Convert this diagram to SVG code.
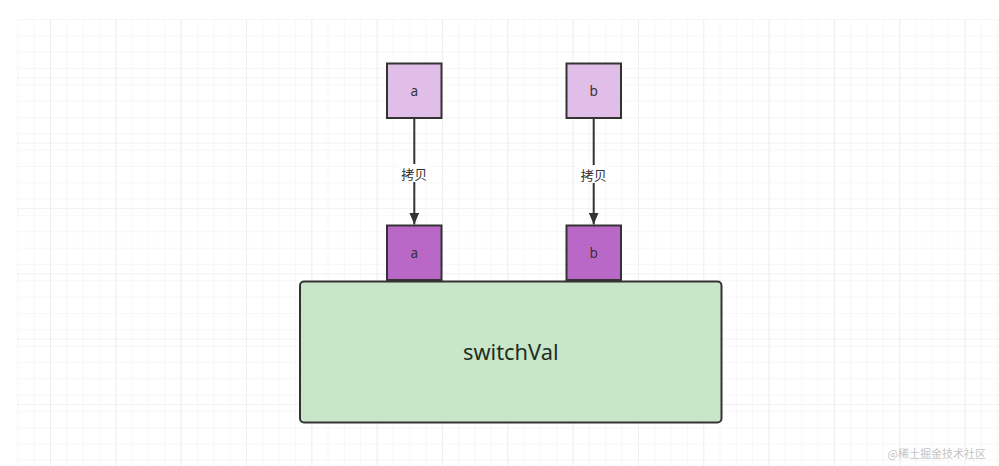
<svg xmlns="http://www.w3.org/2000/svg" width="999" height="466" viewBox="0 0 999 466">
<style>
.node rect{stroke:#333;stroke-width:2}
.lt{fill:#E1BEE7}
.dk{fill:#BA68C8}
.t{font-family:"Noto Sans","Liberation Sans","Noto Sans CJK SC",sans-serif;fill:#333;text-anchor:middle;dominant-baseline:central}
.edge{stroke:#333;stroke-width:2;fill:none}
.lbl{font-family:"Noto Sans CJK SC","Noto Sans",sans-serif;font-size:13px;fill:#333;text-anchor:middle;dominant-baseline:central}
</style>
<defs>
<pattern id="minor" patternUnits="userSpaceOnUse" x="17.3" y="19" width="16.33" height="16.33">
<path d="M0 0V16.33M0 0H16.33" stroke="#efefef" stroke-width="1" fill="none"/>
</pattern>
<pattern id="major" patternUnits="userSpaceOnUse" x="-15.3" y="12" width="65.33" height="65.33">
<path d="M0 0V65.33M0 0H65.33" stroke="#e6e6e6" stroke-width="1" fill="none"/>
</pattern>
<marker id="arr" viewBox="0 0 12 10" refX="12" refY="5" markerWidth="12" markerHeight="10" orient="auto" markerUnits="userSpaceOnUse">
<path d="M0 0L12 5L0 10Z" fill="#333"/>
</marker>
</defs>
<rect width="999" height="466" fill="#fff"/>
<rect x="17" y="19" width="982" height="447" fill="url(#minor)"/>
<rect x="17" y="19" width="982" height="447" fill="url(#major)"/>
<g id="connectors">
<g id="e1">
<line class="edge" x1="414.3" y1="118" x2="414.3" y2="224.5" marker-end="url(#arr)"/>
<rect x="399" y="164" width="31" height="18" fill="#fff"/>
<text class="lbl" x="414.3" y="173">拷贝</text>
</g>
<g id="e2">
<line class="edge" x1="593.7" y1="118" x2="593.7" y2="224.5" marker-end="url(#arr)"/>
<rect x="578" y="165" width="31" height="18" fill="#fff"/>
<text class="lbl" x="593.7" y="174">拷贝</text>
</g>
</g>
<g id="a_src" class="node"><rect class="lt" x="387" y="63.5" width="54.5" height="54.5"/><text class="t" x="414.3" y="91" font-size="13.5">a</text></g>
<g id="b_src" class="node"><rect class="lt" x="566.5" y="63.5" width="54.5" height="54.5"/><text class="t" x="593.7" y="91" font-size="13.5">b</text></g>
<g id="switchVal" class="node"><rect x="300" y="281.5" width="421.5" height="141" rx="4" fill="#C8E6C9"/><text class="t" x="510.8" y="351" font-size="21.8" style="fill:#222d22">switchVal</text></g>
<g id="a_dst" class="node"><rect class="dk" x="387" y="225.5" width="54.5" height="54.5"/><text class="t" x="414.3" y="253" font-size="13.5">a</text></g>
<g id="b_dst" class="node"><rect class="dk" x="566.5" y="225.5" width="54.5" height="54.5"/><text class="t" x="593.7" y="253" font-size="13.5">b</text></g>
<text x="986" y="453" font-family="Noto Sans CJK SC,sans-serif" font-size="11" fill="#c4c4c4" text-anchor="end" dominant-baseline="central">@稀土掘金技术社区</text>
</svg>
